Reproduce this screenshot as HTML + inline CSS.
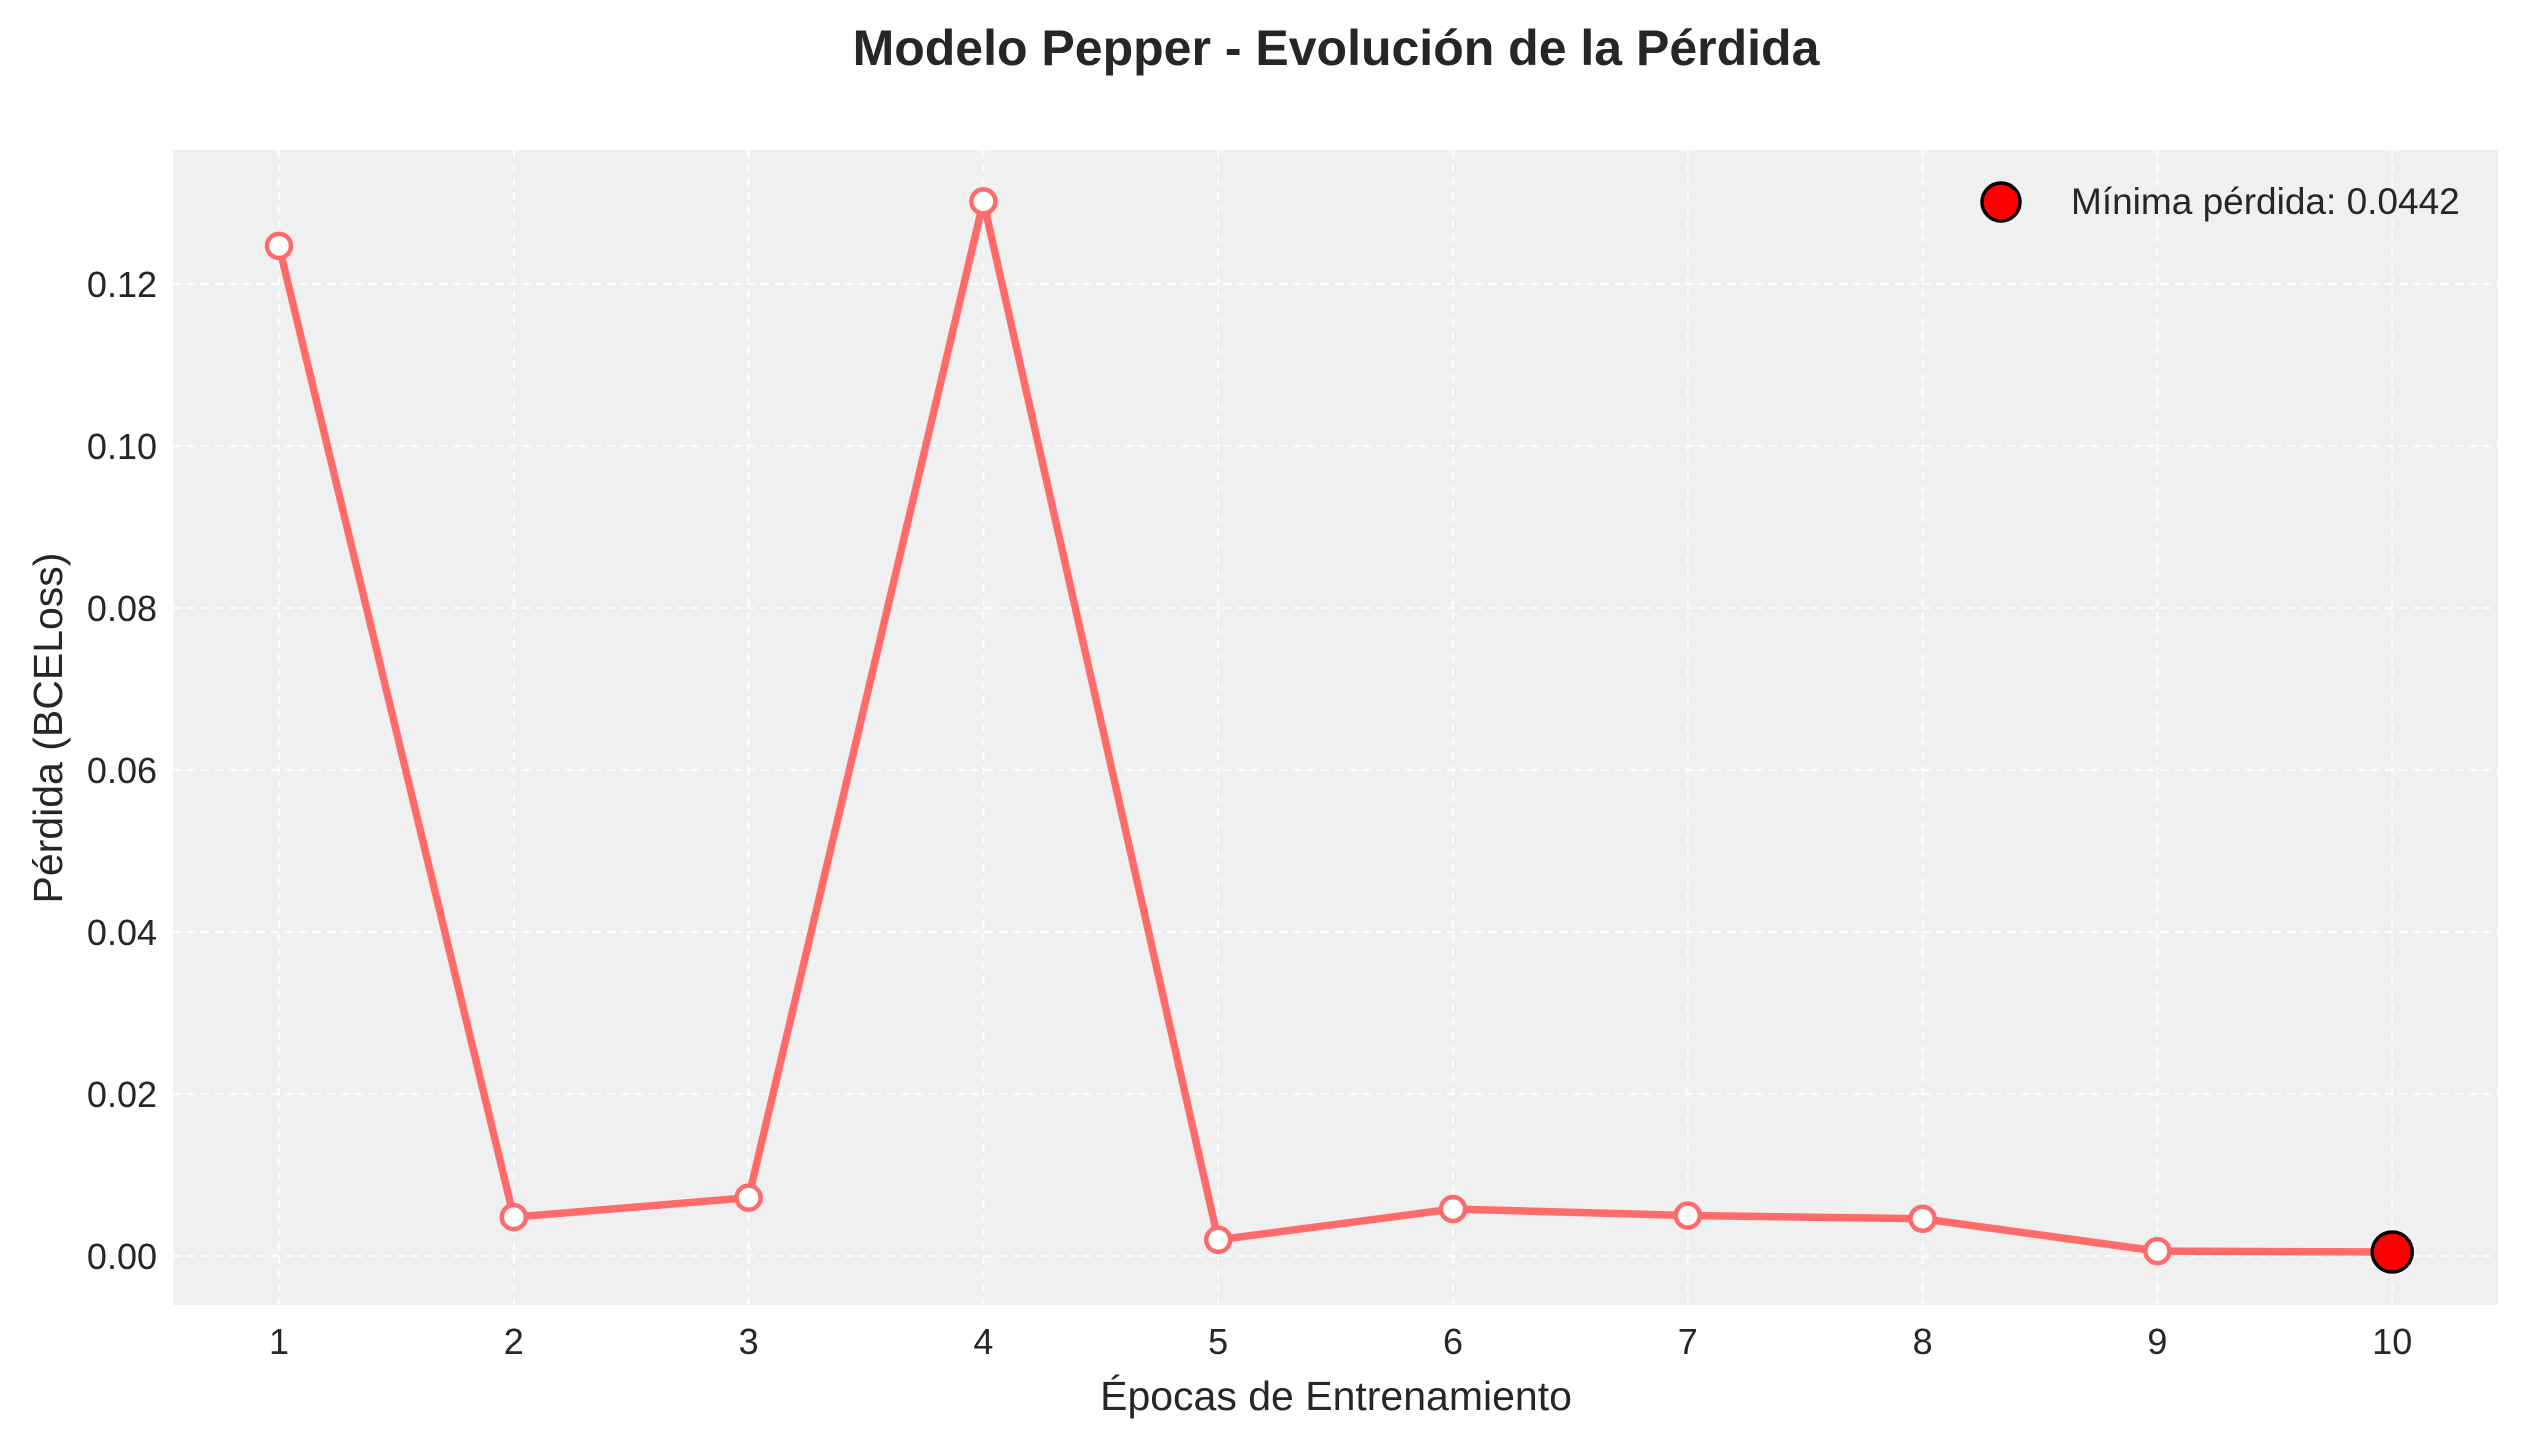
<!DOCTYPE html>
<html><head><meta charset="utf-8"><style>
html,body{margin:0;padding:0;background:#fff;}
svg{display:block;font-family:"Liberation Sans",Arial,sans-serif;}
</style></head><body>
<svg id="chart" width="2528" height="1445" viewBox="0 0 2528 1445">
<rect x="173" y="150" width="2325" height="1155" fill="#f0f0f0"/>
<g id="grid"></g>
<g id="ticks"></g>
<g id="series"></g>
<text x="1336" y="65" text-anchor="middle" font-size="50" font-weight="bold" fill="#262626">Modelo Pepper - Evolución de la Pérdida</text>
<text x="1336" y="1410" text-anchor="middle" font-size="41" fill="#262626">Épocas de Entrenamiento</text>
<text transform="translate(62,728) rotate(-90)" text-anchor="middle" font-size="41" fill="#262626">Pérdida (BCELoss)</text>
<g>
<circle cx="2001" cy="202" r="19" fill="#ff0000" stroke="#000" stroke-width="3.5"/>
<text x="2071" y="214" font-size="37" fill="#262626">Mínima pérdida: 0.0442</text>
</g>
</svg>
<script>
const epochs=[1,2,3,4,5,6,7,8,9,10];
const losses=[0.1247,0.0048,0.0072,0.1302,0.0020,0.0058,0.0050,0.0046,0.0006,0.0005];
const yTicks=[0,0.02,0.04,0.06,0.08,0.10,0.12];
const yTickLabels=["0.00","0.02","0.04","0.06","0.08","0.10","0.12"];
const NS="http://www.w3.org/2000/svg";
function xs(v){return 279+(v-1)*234.8;}
function ys(v){return 1256-v*8100;}
function mk(tag,attrs,parent){const e=document.createElementNS(NS,tag);for(const k in attrs)e.setAttribute(k,attrs[k]);parent.appendChild(e);return e;}
const grid=document.getElementById('grid'),ticks=document.getElementById('ticks'),series=document.getElementById('series');
epochs.forEach(v=>{
 const l=mk('line',{x1:xs(v),x2:xs(v),y1:150,y2:1305,stroke:'#fff','stroke-width':2,'stroke-dasharray':'8,6',opacity:0.9},grid);
 
 
 const t=mk('text',{x:xs(v),y:1354,'text-anchor':'middle','font-size':36,fill:'#262626'},ticks);
 t.textContent=v;
 
 
});
yTicks.forEach((v,i)=>{
 const l=mk('line',{x1:173,x2:2498,y1:ys(v),y2:ys(v),stroke:'#fff','stroke-width':2,'stroke-dasharray':'8,6',opacity:0.9},grid);
 
 
 const t=mk('text',{x:157,y:ys(v)+13,'text-anchor':'end','font-size':36,fill:'#262626'},ticks);
 t.textContent=yTickLabels[i];
 
 
});
const pts=epochs.map((e,i)=>xs(e)+','+ys(losses[i])).join(' ');
const pl=mk('polyline',{points:pts,fill:'none',stroke:'#ff6b6b','stroke-width':7.5,'stroke-linejoin':'round'},series);


epochs.forEach((e,i)=>{
 const c=mk('circle',{cx:xs(e),cy:ys(losses[i]),r:12,fill:'#fff',stroke:'#ff6b6b','stroke-width':4.5},series);
 
 
});
let mi=0;losses.forEach((v,i)=>{if(v<losses[mi])mi=i;});
const m=mk('circle',{cx:xs(epochs[mi]),cy:ys(losses[mi]),r:20,fill:'#ff0000',stroke:'#000','stroke-width':3.5},series);


</script>
</body></html>
